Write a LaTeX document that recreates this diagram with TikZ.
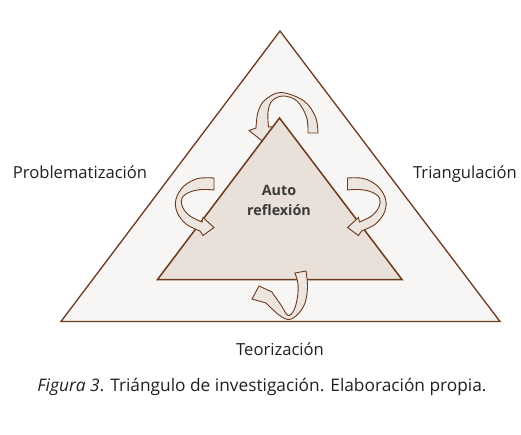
\documentclass[tikz,border=0pt]{standalone}
\usepackage{fontspec}
\setmainfont{Open Sans}
\definecolor{brn}{HTML}{6B3A1E}
\definecolor{outfill}{HTML}{F8F6F4}
\definecolor{infill}{HTML}{E9E0DA}
\definecolor{arrfill}{HTML}{EDE5E0}
\definecolor{txt}{HTML}{231F20}
\definecolor{boldtxt}{HTML}{3A3A3A}
\tikzset{
  tri/.style={draw=brn, line width=1.3pt, line join=miter},
  ribbon/.style={draw=brn, fill=arrfill, line width=0.9pt, line join=miter, miter limit=4},
  lbl/.style={font=\fontsize{16.6}{19}\selectfont, text=txt, inner sep=0pt, anchor=base},
  boldlbl/.style={font=\bfseries\fontsize{14.3}{18}\selectfont, text=boldtxt, inner sep=0pt, anchor=base},
  caplbl/.style={font=\fontsize{17.3}{20}\selectfont, text=txt, inner sep=0pt, anchor=base},
}
% #1 outer edge (tail -> head), #2 wing, #3 tip, #4 wing, #5 inner edge (head -> tail)
\newcommand{\ribbonarrow}[5]{%
  \draw[ribbon] plot[smooth,tension=0.6] coordinates {#1} -- #2 -- #3 -- #4
    -- plot[smooth,tension=0.6] coordinates {#5} -- cycle;
}
\begin{document}
\begin{tikzpicture}[x=1pt,y=-1pt]
\useasboundingbox (0,0) rectangle (521,434);
\fill[white] (0,0) rectangle (521,434);
% outer triangle
\draw[tri, fill=outfill] (280,31) -- (61,321.5) -- (500,321.5) -- cycle;
% top arrow (behind inner triangle)
\ribbonarrow{(318,133) (315.5,117) (304,101) (281,92.5) (265,100) (258,112) (256,128)}
  {(249,130.5)}{(266,144)}{(278,126.5)}
  {(268.5,127) (268,112) (272,101) (283,96) (297,101) (306.5,117) (308,133)}
% inner triangle
\draw[tri, fill=infill, line width=1.5pt] (279.5,118) -- (157.5,279.5) -- (402,279.5) -- cycle;
% left arrow
\ribbonarrow{(214,178) (198,178.5) (184,186) (176,199) (177,212) (186,224) (200,231)}
  {(203,235.5)}{(214,227.5)}{(203,217.5)}
  {(202,222) (190,216) (182.5,207) (182,198) (190,192) (202,189.5) (214,190)}
% right arrow
\ribbonarrow{(347.5,178) (363.5,178.5) (377.5,186) (385.5,199) (384.5,212) (375.5,224) (361.5,231)}
  {(358.5,235.5)}{(347.5,227.5)}{(358.5,217.5)}
  {(359.5,222) (371.5,216) (379,207) (379.5,198) (371.5,192) (359.5,189.5) (347.5,190)}
% bottom arrow
\ribbonarrow{(306,271) (307.5,287) (305,303) (298,314) (289,319.5) (279,315) (266,303)}
  {(252,299)}{(259,286)}{(272,292)}
  {(273.5,294.5) (281,305) (288,315.5) (294,310) (297.5,297) (298,284) (295,273)}
% labels
\node[lbl] (prob) at (80,178.3) {Problematización};
\node[lbl] (tria) at (465,178.3) {Triangulación};
\node[lbl] (teor) at (280,355) {Teorización};
\node[boldlbl] (auto1) at (279,195) {Auto};
\node[boldlbl] (auto2) at (279,215) {reflexión};
\node[caplbl] (cap) at (262,391) {\textit{Figura 3}. Triángulo de investigación. Elaboración propia.};
\end{tikzpicture}
\end{document}
